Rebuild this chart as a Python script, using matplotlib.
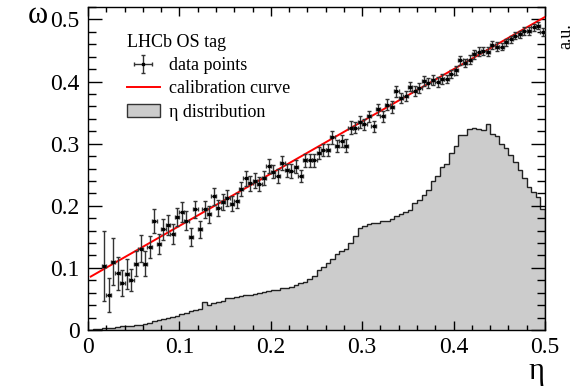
import numpy as np
import matplotlib
matplotlib.use('Agg')
import matplotlib.pyplot as plt
from matplotlib.patches import Patch
from matplotlib.lines import Line2D
from matplotlib.ticker import MultipleLocator

plt.rcParams['font.family'] = ['Liberation Serif', 'DejaVu Serif']
plt.rcParams['mathtext.fontset'] = 'stix'

# eta binning (100 bins of 0.005)
bin_edges = np.linspace(0.0, 0.5, 101)

# eta distribution (arbitrary units, drawn on the omega scale)
eta_hist = [
    0.000, 0.001, 0.002, 0.003, 0.004, 0.004, 0.005, 0.006, 0.006, 0.007,
    0.008, 0.008, 0.010, 0.012, 0.014, 0.016, 0.018, 0.019, 0.021, 0.023,
    0.025, 0.028, 0.030, 0.032, 0.034, 0.045, 0.041, 0.043, 0.045, 0.047,
    0.051, 0.052, 0.053, 0.055, 0.056, 0.057, 0.058, 0.060, 0.061, 0.063,
    0.064, 0.065, 0.067, 0.068, 0.070, 0.073, 0.075, 0.078, 0.082, 0.087,
    0.097, 0.102, 0.108, 0.115, 0.122, 0.127, 0.130, 0.140, 0.152, 0.165,
    0.168, 0.170, 0.172, 0.173, 0.175, 0.176, 0.178, 0.183, 0.186, 0.190,
    0.193, 0.205, 0.210, 0.218, 0.225, 0.240, 0.248, 0.262, 0.268, 0.285,
    0.296, 0.314, 0.314, 0.324, 0.325, 0.323, 0.322, 0.331, 0.316, 0.313,
    0.300, 0.293, 0.282, 0.270, 0.258, 0.244, 0.230, 0.222, 0.214, 0.195,
]

# measured mistag per eta bin (bins 3..99)
first_bin = 3
omega = [
    0.103, 0.056, 0.110, 0.091, 0.075, 0.090, 0.080, 0.107, 0.131, 0.107,
    0.134, 0.175, 0.138, 0.162, 0.169, 0.154, 0.182, 0.190, 0.176, 0.150,
    0.194, 0.162, 0.194, 0.186, 0.215, 0.196, 0.206, 0.212, 0.203, 0.208,
    0.227, 0.244, 0.236, 0.240, 0.235, 0.245, 0.264, 0.255, 0.248, 0.269,
    0.257, 0.256, 0.263, 0.248, 0.273, 0.273, 0.273,
    0.285, 0.290, 0.290, 0.310, 0.296, 0.304, 0.297, 0.326, 0.326, 0.335,
    0.331, 0.344, 0.328, 0.355, 0.344, 0.363, 0.359, 0.384, 0.374, 0.376,
    0.392, 0.385, 0.390, 0.401, 0.398, 0.402, 0.399, 0.404, 0.404, 0.412,
    0.418, 0.434, 0.430, 0.435, 0.444, 0.448, 0.449, 0.448, 0.459, 0.456,
    0.456, 0.463, 0.468, 0.474, 0.476, 0.481, 0.481, 0.487, 0.490, 0.480,
]
omega_err = [
    0.057, 0.027, 0.038, 0.027, 0.021, 0.024, 0.018, 0.020, 0.022, 0.020,
    0.018, 0.019, 0.016, 0.017, 0.016, 0.016, 0.015, 0.016, 0.015, 0.015,
    0.014, 0.014, 0.014, 0.013, 0.013, 0.013, 0.013, 0.013, 0.012, 0.012,
    0.012, 0.012, 0.012, 0.012, 0.011, 0.011, 0.011, 0.011, 0.011, 0.011,
    0.011, 0.011, 0.011, 0.010, 0.010, 0.010, 0.010,
    0.010, 0.010, 0.010, 0.010, 0.010, 0.010, 0.010, 0.010, 0.009, 0.009,
    0.009, 0.009, 0.009, 0.009, 0.009, 0.009, 0.009, 0.009, 0.008, 0.008,
    0.008, 0.008, 0.008, 0.008, 0.008, 0.008, 0.008, 0.008, 0.007, 0.007,
    0.007, 0.007, 0.007, 0.007, 0.007, 0.007, 0.007, 0.007, 0.007, 0.007,
    0.006, 0.006, 0.006, 0.006, 0.006, 0.006, 0.006, 0.006, 0.006, 0.006,
]

# calibration line end points
calib_eta = [0.003, 0.5]
calib_omega = [0.086, 0.504]

centers = 0.5 * (bin_edges[:-1] + bin_edges[1:])
eta_pts = centers[first_bin:first_bin + len(omega)]
half_w = 0.5 * (bin_edges[1] - bin_edges[0])

fig = plt.figure(figsize=(5.73, 3.87), dpi=100)
ax = fig.add_axes([88 / 573, 1 - 330 / 387, (545 - 88) / 573, (330 - 7) / 387])

ax.stairs(eta_hist, bin_edges, fill=True, color='#cccccc', lw=0)
ax.stairs(eta_hist, bin_edges, color='#222222', lw=1.0)

ax.plot(calib_eta, calib_omega, color='red', lw=1.4, zorder=3)

eb = ax.errorbar(eta_pts, omega, yerr=omega_err, xerr=half_w, fmt='s', ms=1.6,
                 color='black', ecolor='#333333', elinewidth=1.0, capsize=1.5,
                 capthick=1.0, zorder=4)

ax.set_xlim(0, 0.5)
ax.set_ylim(0, 0.52)
ax.xaxis.set_major_locator(MultipleLocator(0.1))
ax.xaxis.set_minor_locator(MultipleLocator(0.02))
ax.yaxis.set_major_locator(MultipleLocator(0.1))
ax.yaxis.set_minor_locator(MultipleLocator(0.02))
ax.xaxis.set_major_formatter(plt.FuncFormatter(lambda v, p: '0' if v == 0 else f'{v:.1f}'))
ax.yaxis.set_major_formatter(plt.FuncFormatter(lambda v, p: '0' if v == 0 else f'{v:.1f}'))
ax.tick_params(which='both', direction='in', top=True, right=True, labelsize=17, width=1.0)
ax.tick_params(axis='x', which='major', length=6.5, pad=5)
ax.tick_params(axis='x', which='minor', length=3.5)
ax.tick_params(axis='y', which='major', length=10, pad=6)
ax.tick_params(axis='y', which='minor', length=5.5)
for s in ax.spines.values():
    s.set_linewidth(1.0)

ax.text(-0.11, 0.975, 'ω', transform=ax.transAxes, fontsize=22, ha='center', va='center')
ax.text(0.982, -0.128, 'η', transform=ax.transAxes, fontsize=22, ha='center', va='center')
ax.text(1.045, 0.91, 'a.u.', transform=ax.transAxes, fontsize=13, rotation=90,
        ha='center', va='center')

handles = [
    eb,
    Line2D([], [], color='red', lw=1.4),
    Patch(facecolor='#cccccc', edgecolor='#333333', lw=1.0),
]
labels = ['data points', 'calibration curve', 'η distribution']
leg = ax.legend(handles, labels, title='LHCb OS tag', loc='upper left',
                bbox_to_anchor=(0.05, 0.968), frameon=False, fontsize=13,
                title_fontsize=13, handlelength=1.8, handletextpad=0.5,
                labelspacing=0.35, alignment='left')

fig.savefig('out.png', dpi=100)
